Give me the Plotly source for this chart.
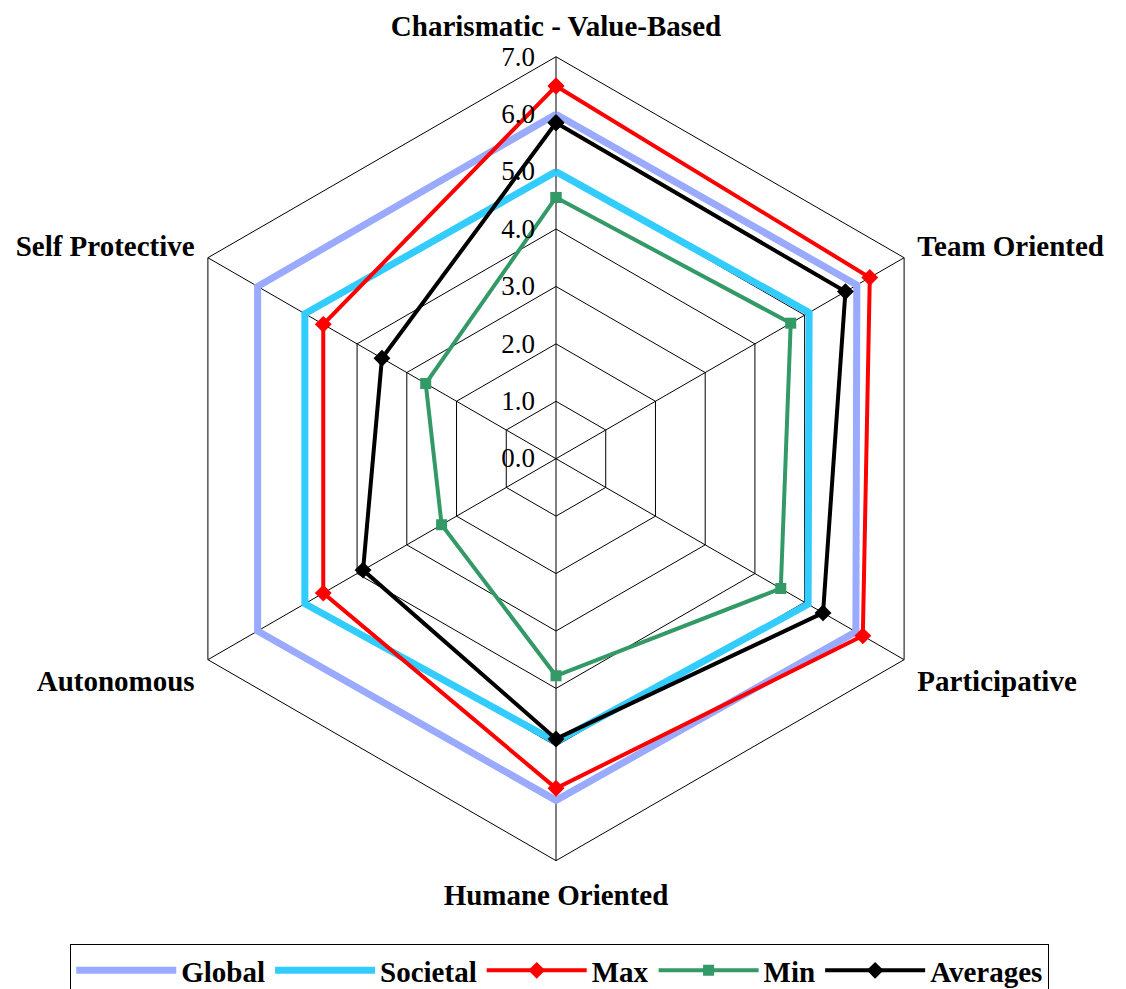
import plotly.graph_objects as go

categories = ["Charismatic - Value-Based", "Team Oriented", "Participative",
              "Humane Oriented", "Autonomous", "Self Protective"]
global_vals = [6.0, 6.05, 6.03, 5.95, 6.0, 6.0]
societal_vals = [5.0, 5.09, 5.07, 4.93, 5.05, 5.05]
max_vals = [6.49, 6.31, 6.17, 5.74, 4.68, 4.68]
min_vals = [4.55, 4.72, 4.52, 3.78, 2.30, 2.62]
avg_vals = [5.85, 5.82, 5.37, 4.88, 3.88, 3.50]
tick_vals = [0, 1, 2, 3, 4, 5, 6, 7]

FONT = "Liberation Serif"

def closed(v):
    return list(v) + [v[0]]

theta = closed(categories)

fig = go.Figure()
series = [
    ("Global", global_vals, "#99AAFF", 7, None),
    ("Societal", societal_vals, "#33CCFF", 7, None),
    ("Max", max_vals, "#FF0000", 4, "diamond"),
    ("Min", min_vals, "#339966", 4, "square"),
    ("Averages", avg_vals, "#000000", 4, "diamond"),
]
for name, vals, color, width, sym in series:
    kw = dict(mode="lines")
    if sym:
        kw = dict(mode="lines+markers",
                  marker=dict(symbol=sym, size=13 if sym == "diamond" else 11,
                              color=color))
    fig.add_trace(go.Scatterpolar(r=closed(vals), theta=theta, name=name,
                                  line=dict(color=color, width=width), **kw))

W, H = 1126, 989
cx, cy, R = 548, 453, 404
fig.update_layout(
    width=W, height=H,
    margin=dict(l=0, r=0, t=0, b=0),
    paper_bgcolor="white",
    font=dict(family=FONT, color="black"),
    polar=dict(
        domain=dict(x=[(cx - R) / W, (cx + R) / W],
                    y=[1 - (cy + R) / H, 1 - (cy - R) / H]),
        bgcolor="white",
        gridshape="linear",
        angularaxis=dict(rotation=90, direction="clockwise",
                         showline=True, linecolor="black", linewidth=1,
                         gridcolor="black", gridwidth=1,
                         ticks="outside", ticklen=9, tickcolor="rgba(0,0,0,0)",
                         tickfont=dict(family=FONT, size=29, weight="bold",
                                       color="black")),
        radialaxis=dict(range=[0, 7], tickvals=tick_vals, tickformat=".1f",
                        angle=90, side="counterclockwise", tickangle=90,
                        showline=False, gridcolor="black", gridwidth=1,
                        ticks="outside", ticklen=11, tickcolor="rgba(0,0,0,0)",
                        tickfont=dict(family=FONT, size=27, color="black")),
    ),
    legend=dict(orientation="h", x=0.49, xanchor="center",
                y=(H - 941) / H, yanchor="top",
                bordercolor="black", borderwidth=1,
                itemwidth=100,
                font=dict(family=FONT, size=29, weight="bold", color="black")),
)

fig.write_html("out.html")
